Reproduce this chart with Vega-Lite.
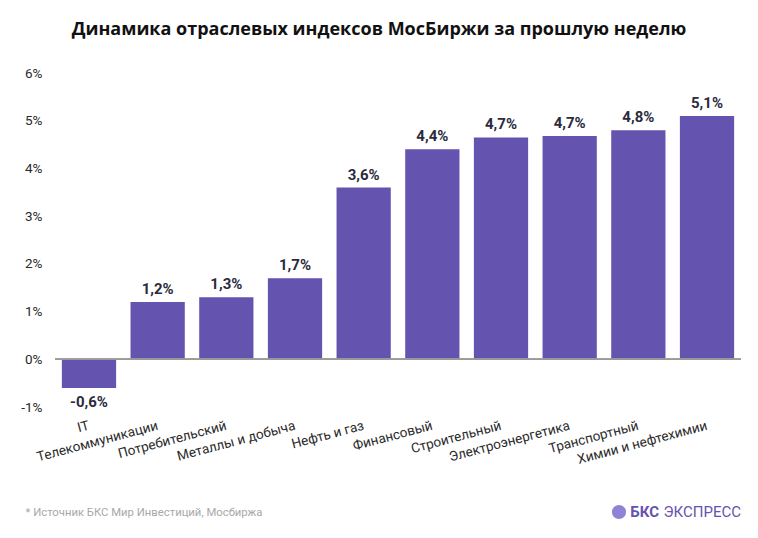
{
  "$schema": "https://vega.github.io/schema/vega-lite/v6.json",
  "width": 686,
  "height": 334,
  "autosize": {"type": "none"},
  "padding": {"left": 55, "top": 73, "right": 17, "bottom": 131},
  "background": "white",
  "title": {
    "text": "Динамика отраслевых индексов МосБиржи за прошлую неделю",
    "font": "Open Sans",
    "fontSize": 18,
    "fontWeight": "bold",
    "color": "#111111",
    "anchor": "middle",
    "dx": -19,
    "offset": 27
  },
  "data": {
    "values": [
      {"sector": "IT", "value": -0.6, "label": "-0,6%"},
      {"sector": "Телекоммуникации", "value": 1.2, "label": "1,2%"},
      {"sector": "Потребительский", "value": 1.3, "label": "1,3%"},
      {"sector": "Металлы и добыча", "value": 1.7, "label": "1,7%"},
      {"sector": "Нефть и газ", "value": 3.6, "label": "3,6%"},
      {"sector": "Финансовый", "value": 4.4, "label": "4,4%"},
      {"sector": "Строительный", "value": 4.65, "label": "4,7%"},
      {"sector": "Электроэнергетика", "value": 4.68, "label": "4,7%"},
      {"sector": "Транспортный", "value": 4.8, "label": "4,8%"},
      {"sector": "Химии и нефтехимии", "value": 5.1, "label": "5,1%"}
    ]
  },
  "config": {
    "view": {"stroke": null},
    "axis": {"grid": false, "domain": false, "ticks": false}
  },
  "encoding": {
    "x": {
      "field": "sector",
      "type": "nominal",
      "sort": null,
      "scale": {"paddingInner": 0.21, "paddingOuter": 0.1},
      "axis": {
        "labelAngle": -15,
        "labelAlign": "right",
        "labelBaseline": "middle",
        "labelPadding": 18,
        "labelFont": "Roboto",
        "labelFontSize": 13.5,
        "labelColor": "#2a2a2a",
        "title": "*  Источник БКС Мир Инвестиций, Мосбиржа",
        "titleFont": "Roboto",
        "titleFontSize": 11.3,
        "titleFontWeight": "normal",
        "titleColor": "#a8a8a8",
        "titleAnchor": "start",
        "titleAlign": "left",
        "titleBaseline": "middle",
        "titleX": -30,
        "titleY": 105
      }
    }
  },
  "layer": [
    {
      "mark": {"type": "bar", "color": "#6553B0"},
      "encoding": {
        "y": {
          "field": "value",
          "type": "quantitative",
          "scale": {"domain": [-1, 6], "nice": false},
          "axis": {
            "values": [-1, 0, 1, 2, 3, 4, 5, 6],
            "labelExpr": "datum.value + '%'",
            "labelFont": "Roboto",
            "labelFontSize": 13.5,
            "labelColor": "#2a2a2a",
            "labelPadding": 13,
            "title": null
          }
        }
      }
    },
    {
      "mark": {"type": "rule", "color": "#9a9a9a", "strokeWidth": 1.2},
      "encoding": {"y": {"datum": 0}, "x": {"value": 0}, "x2": {"value": 686}}
    },
    {
      "transform": [{"filter": "datum.value >= 0"}],
      "mark": {
        "type": "text",
        "font": "Roboto",
        "fontSize": 15,
        "fontWeight": "bold",
        "color": "#2b2b3d",
        "baseline": "alphabetic",
        "dy": -8
      },
      "encoding": {
        "y": {"field": "value", "type": "quantitative"},
        "text": {"field": "label"}
      }
    },
    {
      "transform": [{"filter": "datum.value < 0"}],
      "mark": {
        "type": "text",
        "font": "Roboto",
        "fontSize": 15,
        "fontWeight": "bold",
        "color": "#2b2b3d",
        "baseline": "top",
        "dy": 7
      },
      "encoding": {
        "y": {"field": "value", "type": "quantitative"},
        "text": {"field": "label"}
      }
    },
    {
      "data": {"values": [{"t": "ЭКСПРЕСС"}]},
      "mark": {
        "type": "text",
        "font": "Roboto",
        "fontSize": 15,
        "color": "#6553B0",
        "align": "right",
        "baseline": "middle",
        "dy": 105
      },
      "encoding": {
        "x": {"value": 686},
        "y": {"datum": -1},
        "text": {"field": "t"}
      }
    },
    {
      "data": {"values": [{"t": "БКС"}]},
      "mark": {
        "type": "text",
        "font": "Roboto",
        "fontSize": 15,
        "fontWeight": "bold",
        "color": "#6553B0",
        "align": "right",
        "baseline": "middle",
        "dx": -82,
        "dy": 105
      },
      "encoding": {
        "x": {"value": 686},
        "y": {"datum": -1},
        "text": {"field": "t"}
      }
    },
    {
      "data": {"values": [{"t": "logo"}]},
      "mark": {
        "type": "point",
        "filled": true,
        "shape": "circle",
        "size": 200,
        "color": "#8f83d6",
        "opacity": 1
      },
      "encoding": {
        "x": {"value": 564},
        "y": {"value": 439}
      }
    }
  ]
}
